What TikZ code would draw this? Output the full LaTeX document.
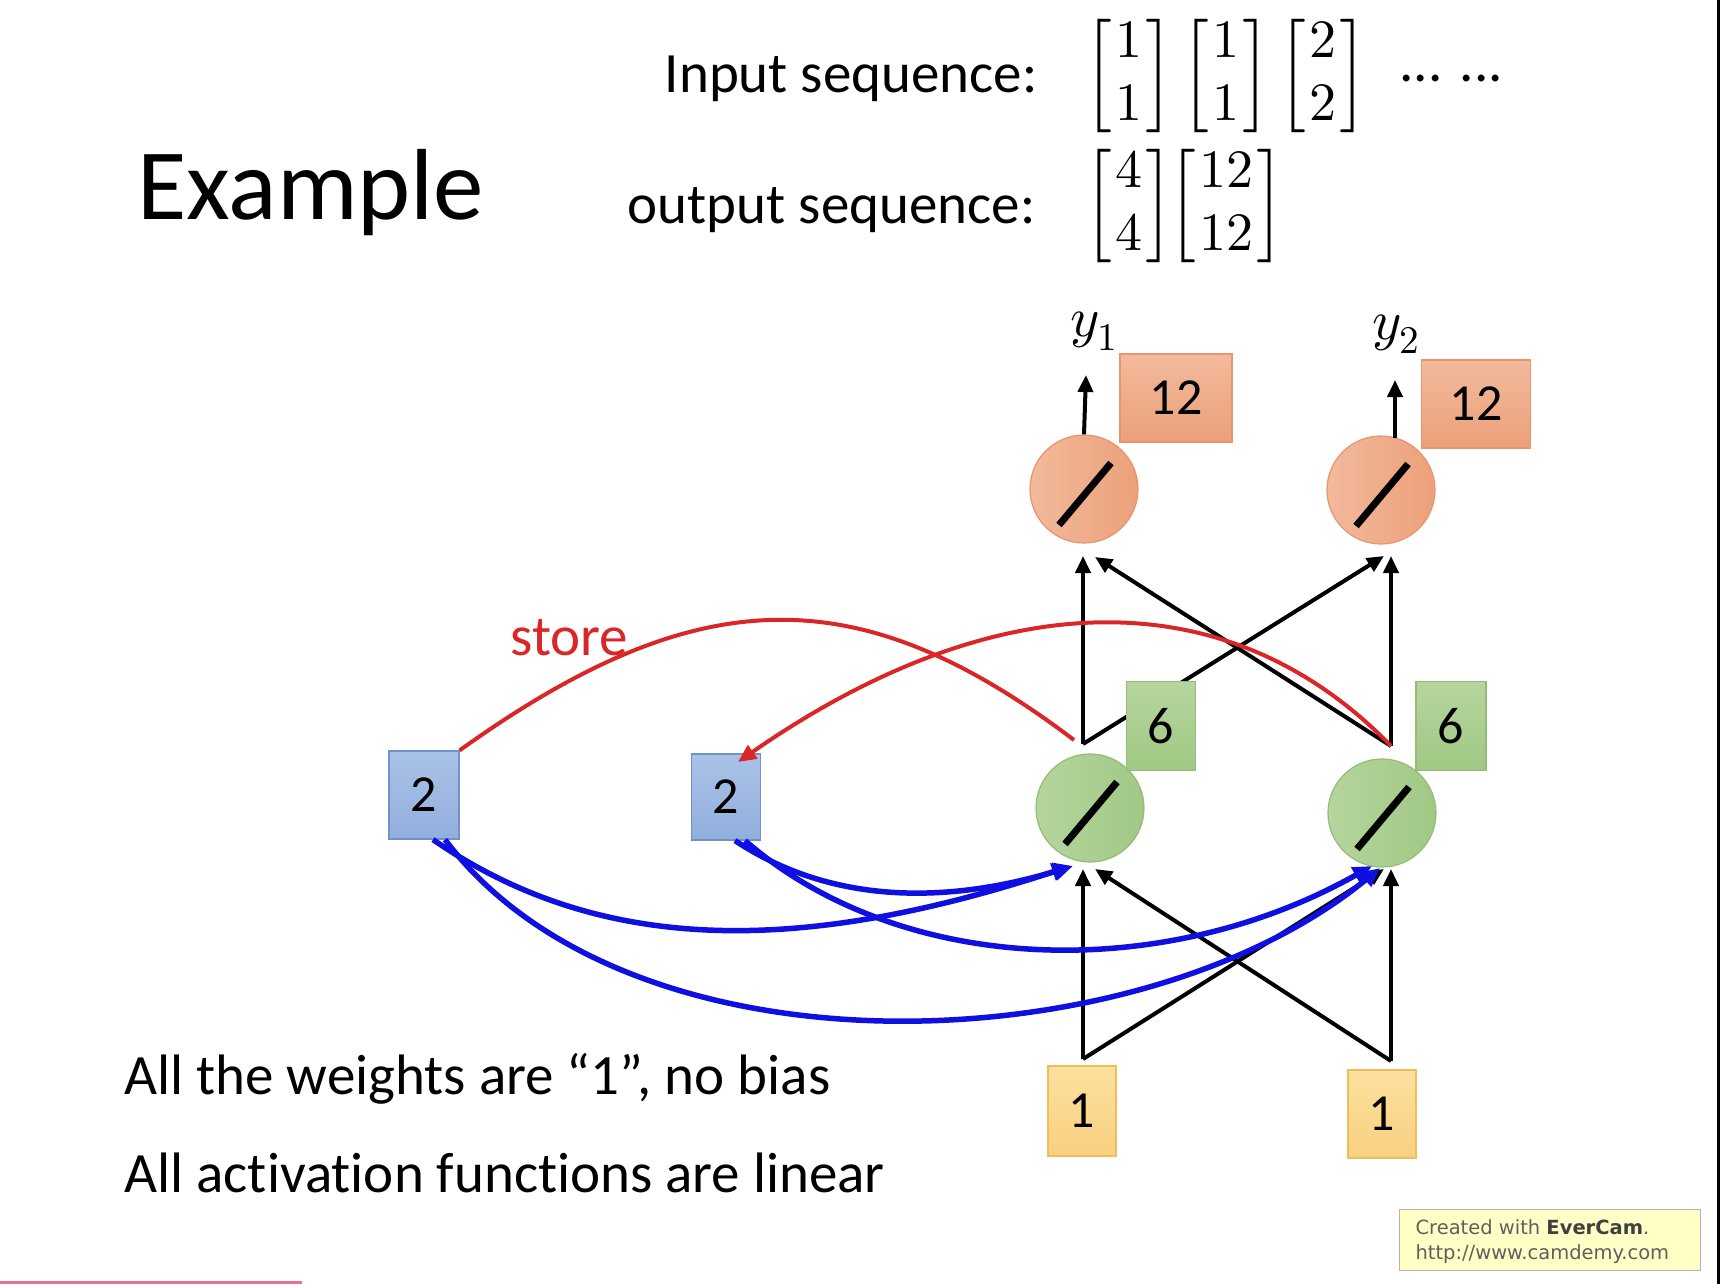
\documentclass[tikz,border=0pt]{standalone}
\usepackage{amsmath}
\usepackage{fontspec}
\usepackage{unicode-math}
\setmainfont{Carlito}[Ligatures=NoCommon]
\newfontfamily\evfont{DejaVu Sans}
\usetikzlibrary{arrows.meta}
\pgfdeclarelayer{bg}
\pgfsetlayers{bg,main}
\definecolor{orA}{RGB}{242,186,156}
\definecolor{orB}{RGB}{236,160,122}
\definecolor{orD}{RGB}{232,148,108}
\definecolor{grA}{RGB}{182,213,158}
\definecolor{grB}{RGB}{160,200,132}
\definecolor{grD}{RGB}{148,188,118}
\definecolor{blA}{RGB}{170,194,232}
\definecolor{blB}{RGB}{145,175,220}
\definecolor{blD}{RGB}{112,146,200}
\definecolor{ylA}{RGB}{253,224,158}
\definecolor{ylB}{RGB}{248,208,128}
\definecolor{ylD}{RGB}{238,190,92}
\definecolor{redL}{RGB}{218,38,38}
\definecolor{blueL}{RGB}{15,15,225}
\definecolor{pinkL}{RGB}{232,112,152}
\definecolor{evfill}{RGB}{255,255,198}
\definecolor{evtext}{RGB}{95,95,95}
\tikzset{
  neuronO/.style={circle, minimum size=108pt, inner sep=0pt, draw=orD, line width=1.2pt, left color=orA, right color=orB},
  neuronG/.style={circle, minimum size=108pt, inner sep=0pt, draw=grD, line width=1.2pt, left color=grA, right color=grB},
  valbox/.style={rectangle, inner sep=0pt, line width=1.2pt, font=\fontsize{52}{62}\selectfont},
  orbox/.style={valbox, draw=orD, top color=orA, bottom color=orB},
  grbox/.style={valbox, draw=grD, top color=grA, bottom color=grB},
  blbox/.style={valbox, draw=blD, top color=blA, bottom color=blB},
  ylbox/.style={valbox, draw=ylD, top color=ylA, bottom color=ylB},
  slashline/.style={line width=7pt},
  blk/.style={line width=4pt, -{Triangle[length=17pt,width=15pt]}},
  blu/.style={line width=5.5pt, blueL, -{Triangle[length=19pt,width=17pt]}},
  rd/.style={line width=4pt, redL},
  mat/.style={inner sep=0pt, font=\fontsize{54}{63}\selectfont},
}
\newcommand{\vecmat}[2]{$\delimiterfactor=780\delimitershortfall=100pt\left[\mkern1mu\begin{matrix}#1\\#2\end{matrix}\mkern1mu\right]$}
\begin{document}
\begin{tikzpicture}[x=1pt, y=-1pt, font=\fontsize{57}{68}\selectfont]
\useasboundingbox (0,0) rectangle (1720,1284);
\begin{pgfonlayer}{bg}
\fill[white] (0,0) rectangle (1720,1284);
\end{pgfonlayer}
\fill[black] (1717,0) rectangle (1720,1284);
\fill[pinkL] (0,1281) rectangle (302,1284);

% title and sequences
\node[anchor=base west, font=\fontsize{101}{120}\selectfont] (title) at (134,219) {Example};
\node[anchor=base east] (inl) at (1041,93) {Input sequence:};
\node[anchor=base east] (outl) at (1039,223) {output sequence:};
\node[mat] (m1) at (1129,76) {\vecmat{1}{1}};
\node[mat] (m2) at (1226,76) {\vecmat{1}{1}};
\node[mat] (m3) at (1323,76) {\vecmat{2}{2}};
\node[anchor=base west] (dots) at (1396,82) {... ...};
\node[mat] (m4) at (1129,206) {\vecmat{4}{4}};
\node[mat] (m5) at (1226,206) {\vecmat{12}{12}};

% neurons
\node[neuronO] (o1) at (1084,489) {};
\node[neuronO] (o2) at (1381,490) {};
\node[neuronG] (h1) at (1090,808) {};
\node[neuronG] (h2) at (1382,813) {};
\foreach \n in {o1,o2,h1,h2}{
  \draw[slashline] ([shift={(-25pt,-36pt)}]\n.center) -- ([shift={(27pt,26pt)}]\n.center);
}

% value boxes
\node[orbox, minimum width=112pt, minimum height=88pt] (v1) at (1176,398) {12};
\node[orbox, minimum width=109pt, minimum height=88pt] (v2) at (1476,404) {12};
\node[grbox, minimum width=69pt, minimum height=89pt] (g1) at (1161,726) {6};
\node[grbox, minimum width=70pt, minimum height=89pt] (g2) at (1451,726) {6};
\node[blbox, minimum width=70pt, minimum height=88pt] (c1) at (424,795) {2};
\node[blbox, minimum width=69pt, minimum height=86pt] (c2) at (726,797) {2};
\node[ylbox, minimum width=68pt, minimum height=90pt] (x1) at (1082,1111) {1};
\node[ylbox, minimum width=68pt, minimum height=88pt] (x2) at (1382,1114) {1};

% output labels
\node[font=\fontsize{56}{66}\selectfont] (y1) at (1094,331) {$y_1$};
\node[font=\fontsize{56}{66}\selectfont] (y2) at (1396,334) {$y_2$};

% junction and tip coordinates
\coordinate (x1o) at (1083,1059);
\coordinate (x2o) at (1391,1061);
\coordinate (h1o) at (1083,744);
\coordinate (h2o) at (1391,746);
\coordinate (h1a) at (1083,869);
\coordinate (h1b) at (1095,869);
\coordinate (h2a) at (1384,869);
\coordinate (h2b) at (1391,869);
\coordinate (o1a) at (1083,556);
\coordinate (o1b) at (1095,557);
\coordinate (o2a) at (1384,556);
\coordinate (o2b) at (1391,556);
\coordinate (y1t) at (1086,375);
\coordinate (y2t) at (1395,380);

\begin{pgfonlayer}{bg}
\draw[blk] (x1o) -- (h1a);
\draw[blk] (x1o) -- (h2a);
\draw[blk] (x2o) -- (h2b);
\draw[blk] (x2o) -- (h1b);
\draw[blk] (h1o) -- (o1a);
\draw[blk] (h1o) -- (o2a);
\draw[blk] (h2o) -- (o2b);
\draw[blk] (h2o) -- (o1b);
\end{pgfonlayer}
\draw[blk] (o1.north) -- (y1t);
\draw[blk] ([xshift=14pt]o2.north |- 0,438) -- (y2t);

% store (red)
\node[anchor=base west, text=redL] (store) at (507,655) {store};
\draw[rd] (c1.north east) .. controls (700,578) and (860,578) .. (1074,740);
\draw[rd, -{Triangle[length=18pt,width=16pt]}] (h2o) .. controls (1230,580) and (1000,580) .. (738,762);

% memory to hidden (blue)
\draw[blu] ([xshift=9pt]c1.south) .. controls (600,955) and (800,955) .. (1071,866);
\draw[blu] ([xshift=21pt]c1.south) .. controls (630,1085) and (1140,1065) .. (1380,868);
\draw[blu] ([xshift=9pt]c2.south) .. controls (840,910) and (960,900) .. (1073,866);
\draw[blu] ([xshift=19pt]c2.south) .. controls (900,975) and (1160,985) .. (1372,866);

% EverCam badge
\node[draw=gray!60, line width=1.2pt, fill=evfill, minimum width=301pt, minimum height=61pt, anchor=north west, inner sep=0pt] (ev) at (1399,1209) {};
\node[anchor=base west, text=evtext, font=\evfont\fontsize{19.5}{22}\selectfont] (ev1) at (1412,1234) {Created with {\bfseries\color{black!75}EverCam}.};
\node[anchor=base west, text=evtext, font=\evfont\fontsize{19.5}{22}\selectfont] (ev2) at (1412,1259) {http://www.camdemy.com};

% bottom notes
\node[anchor=base west] (n1) at (121,1094) {All the weights are “1”, no bias};
\node[anchor=base west] (n2) at (121,1192) {All activation functions are linear};
\end{tikzpicture}
\end{document}
